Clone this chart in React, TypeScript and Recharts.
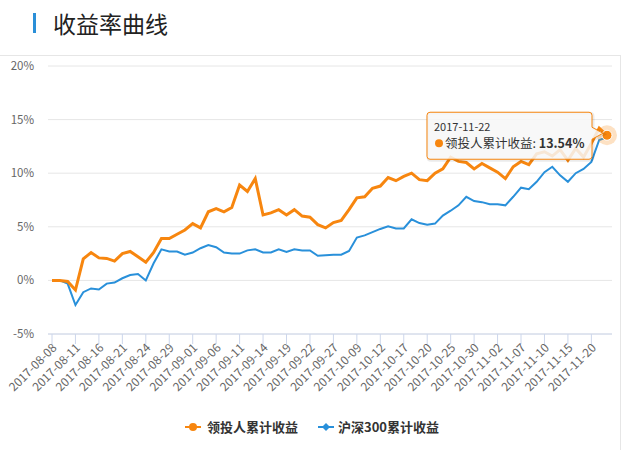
import { LineChart, Line, XAxis, YAxis, CartesianGrid, ReferenceDot } from "recharts";

// trading days 2017-08-08 .. 2017-11-22
const DATES = [
  "2017-08-08", "2017-08-09", "2017-08-10", "2017-08-11", "2017-08-14", "2017-08-15",
  "2017-08-16", "2017-08-17", "2017-08-18", "2017-08-21", "2017-08-22", "2017-08-23",
  "2017-08-24", "2017-08-25", "2017-08-28", "2017-08-29", "2017-08-30", "2017-08-31",
  "2017-09-01", "2017-09-04", "2017-09-05", "2017-09-06", "2017-09-07", "2017-09-08",
  "2017-09-11", "2017-09-12", "2017-09-13", "2017-09-14", "2017-09-15", "2017-09-18",
  "2017-09-19", "2017-09-20", "2017-09-21", "2017-09-22", "2017-09-25", "2017-09-26",
  "2017-09-27", "2017-09-28", "2017-09-29", "2017-10-09", "2017-10-10", "2017-10-11",
  "2017-10-12", "2017-10-13", "2017-10-16", "2017-10-17", "2017-10-18", "2017-10-19",
  "2017-10-20", "2017-10-23", "2017-10-24", "2017-10-25", "2017-10-26", "2017-10-27",
  "2017-10-30", "2017-10-31", "2017-11-01", "2017-11-02", "2017-11-03", "2017-11-06",
  "2017-11-07", "2017-11-08", "2017-11-09", "2017-11-10", "2017-11-13", "2017-11-14",
  "2017-11-15", "2017-11-16", "2017-11-17", "2017-11-20", "2017-11-21", "2017-11-22",
];

// 领投人累计收益 (%)
const LEAD = [
  0, 0, -0.1, -0.9, 2.0, 2.6, 2.1, 2.05, 1.8, 2.5,
  2.7, 2.2, 1.7, 2.6, 3.9, 3.9, 4.3, 4.7, 5.3, 4.9,
  6.4, 6.7, 6.4, 6.8, 8.9, 8.3, 9.5, 6.1, 6.3, 6.6,
  6.1, 6.6, 6.0, 5.9, 5.2, 4.9, 5.4, 5.6, 6.6, 7.7,
  7.8, 8.6, 8.8, 9.6, 9.3, 9.7, 10.0, 9.4, 9.3, 10.0,
  10.4, 11.5, 11.1, 11.0, 10.4, 10.9, 10.5, 10.1, 9.5, 10.6,
  11.1, 10.8, 11.8, 12.0, 11.6, 12.2, 11.2, 12.3, 11.5, 12.8,
  14.2, 13.54,
];

// 沪深300累计收益 (%)
const HS300 = [
  0, 0, -0.3, -2.3, -1.1, -0.75, -0.85, -0.3, -0.2, 0.2,
  0.5, 0.6, 0.0, 1.6, 2.9, 2.7, 2.7, 2.4, 2.6, 3.0,
  3.3, 3.1, 2.6, 2.5, 2.5, 2.8, 2.9, 2.6, 2.6, 2.9,
  2.65, 2.9, 2.8, 2.8, 2.3, 2.35, 2.4, 2.4, 2.75, 4.0,
  4.2, 4.5, 4.8, 5.05, 4.85, 4.85, 5.7, 5.35, 5.2, 5.3,
  6.05, 6.5, 7.0, 7.8, 7.4, 7.3, 7.1, 7.1, 7.0, 7.8,
  8.65, 8.5, 9.2, 10.1, 10.6, 9.8, 9.2, 10.0, 10.4, 11.05,
  13.1, 13.35,
];

const Y_TICKS = [-5, 0, 5, 10, 15, 20];

const ORANGE = "#f7860f";
const BLUE = "#2990da";
const CJK = '"Noto Sans CJK SC", "Noto Sans", sans-serif';

const data = DATES.map((date, i) => ({ date, lead: LEAD[i], hs300: HS300[i] }));
const LAST = data.length - 1;

const DateTick = ({ x, y, payload }: any) => (
  <text
    x={x + 3}
    y={y}
    dy="0.3em"
    transform={`rotate(-45 ${x + 3} ${y})`}
    textAnchor="end"
    fontSize={12}
    fill="#666"
    fontFamily={CJK}
  >
    {payload.value}
  </text>
);

// hover marker + tooltip box, anchored on the last point
const HoverTip = ({ cx, cy }: any) => {
  const l = cx - 180;
  const r = cx - 15;
  const t = cy - 23;
  const b = cy + 24;
  const path = `M ${l + 3} ${t} L ${r - 3} ${t} Q ${r} ${t} ${r} ${t + 3} L ${r} ${cy - 8} L ${cx - 4} ${cy - 2} L ${r} ${cy + 4} L ${r} ${b - 3} Q ${r} ${b} ${r - 3} ${b} L ${l + 3} ${b} Q ${l} ${b} ${l} ${b - 3} L ${l} ${t + 3} Q ${l} ${t} ${l + 3} ${t} Z`;
  return (
    <g>
      <circle cx={cx} cy={cy} r={10} fill={ORANGE} opacity={0.25} />
      <circle cx={cx} cy={cy} r={5} fill={ORANGE} stroke="#fff" strokeWidth={1} />
      <path d={path} transform="translate(1 1)" fill="none" stroke="#000" strokeOpacity={0.08} strokeWidth={3} />
      <path d={path} fill="rgba(247,247,247,0.85)" stroke={ORANGE} strokeWidth={1} />
      <text x={l + 7} y={cy - 4} fontSize={11} fill="#333" fontFamily={CJK}>
        {DATES[LAST]}
      </text>
      <circle cx={l + 12} cy={cy + 8} r={4} fill={ORANGE} />
      <text x={l + 18} y={cy + 13} fontSize={12.5} fill="#333" fontFamily={CJK}>
        领投人累计收益:{" "}
        <tspan fontWeight="bold">{LEAD[LAST].toFixed(2)}%</tspan>
      </text>
    </g>
  );
};

const ChartLegend = () => (
  <div
    style={{
      position: "absolute",
      left: 0,
      top: 417,
      width: 624,
      display: "flex",
      justifyContent: "center",
      gap: 20,
      fontFamily: CJK,
      fontSize: 13,
      fontWeight: "bold",
      color: "#333",
    }}
  >
    <div style={{ display: "flex", alignItems: "center", gap: 6 }}>
      <svg width={16} height={12}>
        <line x1={0} y1={6} x2={16} y2={6} stroke={ORANGE} strokeWidth={2} />
        <circle cx={8} cy={6} r={4} fill={ORANGE} />
      </svg>
      <span>领投人累计收益</span>
    </div>
    <div style={{ display: "flex", alignItems: "center", gap: 4 }}>
      <svg width={16} height={12}>
        <line x1={0} y1={6} x2={16} y2={6} stroke={BLUE} strokeWidth={2} />
        <path d="M 8 2 L 12 6 L 8 10 L 4 6 Z" fill={BLUE} />
      </svg>
      <span>沪深300累计收益</span>
    </div>
  </div>
);

export default function App() {
  return (
    <div style={{ position: "relative", width: 624, height: 450, background: "#fff", overflow: "hidden" }}>
      <style>{"body{margin:0}"}</style>
      <div style={{ position: "absolute", left: 33, top: 13, width: 3, height: 20, background: "#2a8fd8" }} />
      <div
        style={{
          position: "absolute",
          left: 53,
          top: 7,
          fontFamily: CJK,
          fontSize: 23,
          color: "#222",
          lineHeight: "32px",
        }}
      >
        收益率曲线
      </div>
      <div style={{ position: "absolute", left: 0, top: 55, width: 621, height: 1, background: "#e6e6e6" }} />
      <div style={{ position: "absolute", left: 620, top: 55, width: 1, height: 395, background: "#e6e6e6" }} />

      <div style={{ position: "absolute", left: 0, top: 0 }}>
        <LineChart width={624} height={450} data={data} margin={{ top: 66, right: 12, bottom: 46, left: 0 }}>
          <CartesianGrid vertical={false} stroke="#e6e6e6" />
          <XAxis
            dataKey="date"
            padding={{ left: 4, right: 5 }}
            interval={2}
            height={70}
            axisLine={{ stroke: "#ccd6eb" }}
            tickLine={{ stroke: "#ccd6eb" }}
            tickSize={10}
            tick={<DateTick />}
          />
          <YAxis
            domain={[-5, 20]}
            ticks={Y_TICKS}
            width={48}
            axisLine={false}
            tickLine={false}
            tickMargin={8}
            tick={{ fontSize: 11.5, fill: "#666", fontFamily: CJK }}
            tickFormatter={(v) => `${v}%`}
          />
          <Line
            type="linear"
            dataKey="hs300"
            stroke={BLUE}
            strokeWidth={2}
            dot={false}
            activeDot={false}
            isAnimationActive={false}
          />
          <Line
            type="linear"
            dataKey="lead"
            stroke={ORANGE}
            strokeWidth={3}
            dot={false}
            activeDot={false}
            isAnimationActive={false}
          />
          <ReferenceDot x={DATES[LAST]} y={LEAD[LAST]} r={5} shape={<HoverTip />} />
        </LineChart>
      </div>
      <ChartLegend />
    </div>
  );
}
